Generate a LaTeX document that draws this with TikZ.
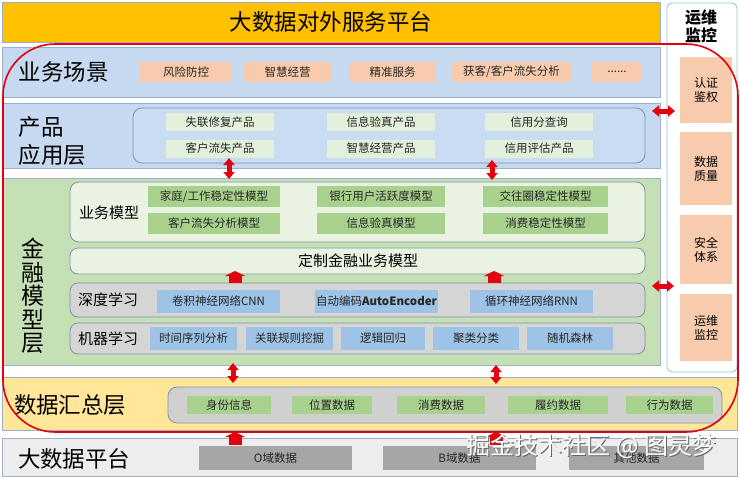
\documentclass[tikz,border=0pt]{standalone}
\usepackage{fontspec}
\setmainfont{Noto Sans CJK SC}
\usetikzlibrary{arrows.meta,calc}
\definecolor{gold}{HTML}{FFC000}
\definecolor{bandblue}{HTML}{C6D9F0}
\definecolor{prodfill}{HTML}{CADCF2}
\definecolor{peach}{HTML}{F8CBAD}
\definecolor{lgreen}{HTML}{E2EFDA}
\definecolor{bandgreen}{HTML}{C5E0B4}
\definecolor{modelfill}{HTML}{EAF3E2}
\definecolor{mgreen}{HTML}{A9D18E}
\definecolor{dlgray}{HTML}{D5D5D5}
\definecolor{bitem}{HTML}{9DC3E6}
\definecolor{yband}{HTML}{FFE699}
\definecolor{sumgray}{HTML}{D0D0D0}
\definecolor{pband}{HTML}{EDEDED}
\definecolor{pitem}{HTML}{A6A6A6}
\definecolor{rd}{HTML}{E3000F}
\definecolor{bandline}{HTML}{9DB0C8}
\definecolor{boxline}{HTML}{8092AA}
\definecolor{panelline}{HTML}{8FC1E3}
\begin{document}
\begin{tikzpicture}[x=1pt,y=-1pt,
  every node/.style={inner sep=0pt,outer sep=0pt},
  band/.style={draw=bandline,line width=0.6pt,anchor=north west},
  big/.style={font=\fontsize{22.5}{28}\selectfont},
  mid/.style={font=\fontsize{15}{18}\selectfont},
  itm/.style={font=\fontsize{11.5}{13}\selectfont,text=black!85},
  ibox/.style={draw=boxline,line width=0.8pt,rounded corners=9pt,anchor=north west},
  rbox/.style={fill=peach,minimum width=52,align=center,font=\fontsize{12}{14}\selectfont},
  dbl/.style={draw=rd,line width=5pt,{Triangle[length=7pt,width=11pt]}-{Triangle[length=7pt,width=11pt]}},
  uparr/.style={draw=rd,line width=13pt,-{Triangle[length=5pt,width=20pt]}},
  lbl/.style={anchor=west}
]
\useasboundingbox (0,0) rectangle (740,477);
\fill[white] (0,0) rectangle (740,477);

% top banner
\node[band,fill=gold,minimum width=658,minimum height=40] (top) at (2,2) {};
\node[big] (toptxt) at (331,22) {大数据对外服务平台};

% right panel
\node[draw=panelline,line width=0.8pt,fill=white,rounded corners=5pt,anchor=north west,minimum width=70,minimum height=369] (panel) at (667,3) {};
\node[align=center,font=\fontsize{16}{18}\selectfont\bfseries] (ptitle) at (701,26.5) {运维\\监控};
\node[rbox,minimum height=66] (r1) at (706,90) {认证\\鉴权};
\node[rbox,minimum height=73] (r2) at (706,168.5) {数据\\质量};
\node[rbox,minimum height=69] (r3) at (706,249.5) {安全\\体系};
\node[rbox,minimum height=67] (r4) at (706,327.5) {运维\\监控};

% band 1: business scenarios
\node[band,fill=bandblue,minimum width=658,minimum height=50] (b1) at (2,47) {};
\node[big,lbl] (b1l) at (19,72) {业务场景};
\begin{scope}[every node/.append style={itm,fill=peach,minimum height=20}]
\node[minimum width=92] (s1) at (186,72) {风险防控};
\node[minimum width=89] (s2) at (287.5,72) {智慧经营};
\node[minimum width=87] (s3) at (392.5,72) {精准服务};
\node[minimum width=119] (s4) at (511.5,72) {获客/客户流失分析};
\node[minimum width=50] (s5) at (617,72) {......};
\end{scope}

% band 2: product application
\node[band,fill=bandblue,minimum width=658,minimum height=65] (b2) at (2,103) {};
\node[big,lbl,align=left] (b2l) at (19,141) {产品\\应用层};
\node[ibox,fill=prodfill,minimum width=512,minimum height=55] (prod) at (133,108) {};
\begin{scope}[every node/.append style={itm,fill=lgreen,minimum height=18,minimum width=108}]
\node (p1) at (220,122) {失联修复产品};
\node (p2) at (220,148.5) {客户流失产品};
\node (p3) at (381,122) {信息验真产品};
\node (p4) at (381,148.5) {智慧经营产品};
\node (p5) at (539,122) {信用分查询};
\node (p6) at (539,148.5) {信用评估产品};
\end{scope}

% band 3: financial model layer
\node[band,fill=bandgreen,minimum width=658,minimum height=187] (b3) at (2,178) {};
\node[align=center,font=\fontsize{23}{23.5}\selectfont] (b3l) at (32.5,296) {金\\融\\模\\型\\层};
\node[ibox,fill=modelfill,minimum width=575,minimum height=60] (bm) at (70,182) {};
\node[mid,lbl] (bml) at (79,213) {业务模型};
\begin{scope}[every node/.append style={itm,fill=mgreen,minimum height=21}]
\node[minimum width=132] (m1) at (214,196.5) {家庭/工作稳定性模型};
\node[minimum width=132] (m2) at (214,223) {客户流失分析模型};
\node[minimum width=128] (m3) at (381,196.5) {银行用户活跃度模型};
\node[minimum width=128] (m4) at (381,223) {信息验真模型};
\node[minimum width=125] (m5) at (545.5,196.5) {交往圈稳定性模型};
\node[minimum width=125] (m6) at (545.5,223) {消费稳定性模型};
\end{scope}
\node[ibox,fill=modelfill,rounded corners=8pt,minimum width=575,minimum height=26] (cm) at (70,248) {};
\node[mid] (cml) at (358,261) {定制金融业务模型};
\node[ibox,fill=dlgray,rounded corners=8pt,minimum width=575,minimum height=34] (dl) at (70,283) {};
\node[mid,lbl] (dll) at (78,300) {深度学习};
\begin{scope}[every node/.append style={itm,fill=bitem,minimum height=23,minimum width=123}]
\node (d1) at (218.5,301.5) {卷积神经网络CNN};
\node (d2) at (376.5,301.5) {自动编码\textbf{AutoEncoder}};
\node (d3) at (531.5,301.5) {循环神经网络RNN};
\end{scope}
\node[ibox,fill=dlgray,rounded corners=8pt,minimum width=575,minimum height=31] (ml) at (70,323) {};
\node[mid,lbl] (mll) at (78,339) {机器学习};
\begin{scope}[every node/.append style={itm,fill=bitem,minimum height=23}]
\node[minimum width=87] (l1) at (193.5,338.5) {时间序列分析};
\node[minimum width=87] (l2) at (289.5,338.5) {关联规则挖掘};
\node[minimum width=84] (l3) at (383,338.5) {逻辑回归};
\node[minimum width=86] (l4) at (476,338.5) {聚类分类};
\node[minimum width=86] (l5) at (570,338.5) {随机森林};
\end{scope}

% band 4: data summary
\node[band,fill=yband,minimum width=735,minimum height=53] (b4) at (2,377) {};
\node[big,lbl] (b4l) at (14,405) {数据汇总层};
\node[ibox,fill=sumgray,rounded corners=9pt,minimum width=554,minimum height=36] (sum) at (168,387) {};
\begin{scope}[every node/.append style={itm,fill=mgreen,minimum height=18}]
\node[minimum width=84] (u1) at (229,405) {身份信息};
\node[minimum width=80] (u2) at (332,405) {位置数据};
\node[minimum width=88] (u3) at (441,405) {消费数据};
\node[minimum width=100] (u4) at (558,405) {履约数据};
\node[minimum width=87] (u5) at (669.5,405) {行为数据};
\end{scope}

% band 5: big data platform
\node[band,fill=pband,minimum width=735,minimum height=38] (b5) at (2,438) {};
\node[big,lbl] (b5l) at (18,459) {大数据平台};
\begin{scope}[every node/.append style={itm,fill=pitem,minimum height=24}]
\node[minimum width=153] (o1) at (275.5,458) {O域数据};
\node[minimum width=153] (o2) at (459.5,458) {B域数据};
\node[minimum width=135] (o3) at (636.5,458) {其他数据};
\end{scope}

% arrow x positions
\coordinate (xa) at (229,0);
\coordinate (xb) at (492,0);
\coordinate (xc) at (235,0);
\coordinate (xd) at (494,0);
\coordinate (xe) at (496,0);
\coordinate (xf) at (233,0);
\coordinate (ya) at (0,111);
\coordinate (yb) at (0,286);

% arrows
\draw[dbl] ($(prod.south -| xa)+(0,-5)$) -- ($(bm.north -| xa)+(0,-3)$);
\draw[dbl] ($(prod.south -| xb)+(0,-3)$) -- ($(bm.north -| xb)+(0,-2)$);
\draw[dbl] ($(b3.south -| xf)+(0,-2)$) -- ($(b4.north -| xf)+(0,6)$);
\draw[dbl] ($(b3.south -| xe)+(0,0)$) -- ($(b4.north -| xe)+(0,7)$);
\draw[uparr] (dl.north -| xc) -- ($(cm.south -| xc)+(0,-3)$);
\draw[uparr] (dl.north -| xd) -- ($(cm.south -| xd)+(0,-3)$);
\draw[uparr] ($(b5.north -| xc)+(0,7)$) -- ($(b4.south -| xc)+(0,2)$);
\draw[uparr] ($(b5.north -| xe)+(0,7)$) -- ($(b4.south -| xe)+(0,2)$);
\draw[dbl] ($(b2.east |- ya)+(-8,0)$) -- ($(panel.west |- ya)+(8,0)$);
\draw[dbl] ($(b3.east |- yb)+(-8,0)$) -- ($(panel.west |- yb)+(7,0)$);

% red outline
\draw[rd,line width=1.6pt,rounded corners=52pt] (3,44) rectangle (738,432);

% watermark
\node[font=\fontsize{24}{26}\selectfont,text=black!60] (wm1) at (592.5,447) {掘金技术社区 @ 图灵梦};
\node[font=\fontsize{24}{26}\selectfont,text=white] (wm2) at (591.5,446) {掘金技术社区 @ 图灵梦};
\end{tikzpicture}
\end{document}
